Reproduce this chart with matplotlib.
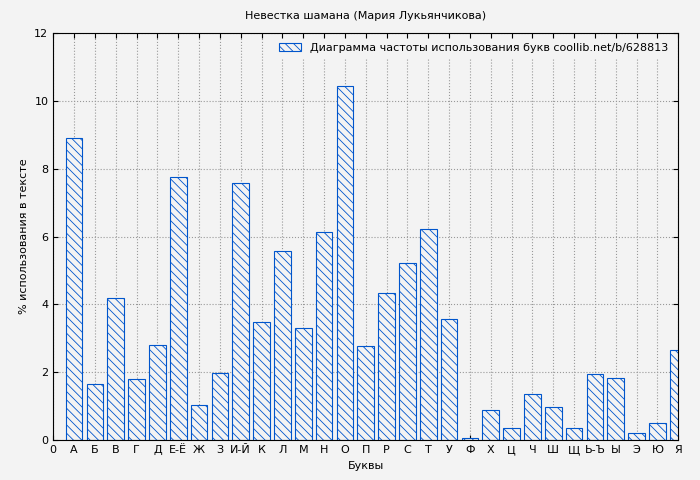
import matplotlib
matplotlib.use('Agg')
import matplotlib.pyplot as plt

letters = ['А', 'Б', 'В', 'Г', 'Д', 'Е-Ё', 'Ж', 'З', 'И-Й', 'К', 'Л', 'М', 'Н', 'О', 'П',
           'Р', 'С', 'Т', 'У', 'Ф', 'Х', 'Ц', 'Ч', 'Ш', 'Щ', 'Ь-Ъ', 'Ы', 'Э', 'Ю', 'Я']
values = [8.9, 1.67, 4.2, 1.8, 2.8, 7.77, 1.05, 1.97, 7.57, 3.47, 5.57, 3.3, 6.15, 10.43, 2.77,
          4.33, 5.22, 6.23, 3.57, 0.05, 0.9, 0.35, 1.35, 0.97, 0.35, 1.95, 1.82, 0.2, 0.52, 2.65]

plt.rcParams['hatch.color'] = '#0055cc'
plt.rcParams['hatch.linewidth'] = 0.6

fig = plt.figure(figsize=(7, 4.8), dpi=100, facecolor='#f3f3f3')
ax = fig.add_axes([0.076, 0.083, 0.893, 0.848], facecolor='#f3f3f3')

pos = list(range(1, len(letters) + 1))
ax.bar(pos, values, width=0.8, color='#f3f3f3', edgecolor='#0055cc', hatch='\\\\\\\\',
       linewidth=0.8, label='Диаграмма частоты использования букв coollib.net/b/628813')

ax.set_xlim(0, 30)
ax.set_ylim(0, 12)
ax.set_xticks([0] + pos)
ax.set_xticklabels(['0'] + letters)
ax.set_yticks(range(0, 13, 2))
ax.tick_params(direction='in', top=True, right=True, labelsize=8)
ax.grid(True, color='#999999', linestyle=':', linewidth=0.8)
ax.set_axisbelow(True)

ax.set_xlabel('Буквы', fontsize=8)
ax.set_ylabel('% использования в тексте', fontsize=8)
ax.set_title('Невестка шамана (Мария Лукьянчикова)', fontsize=8, pad=10)
leg = ax.legend(loc='upper right', fontsize=8, frameon=True, fancybox=False,
                edgecolor='none', facecolor='#f3f3f3', framealpha=1)

fig.savefig('out.png', dpi=100, facecolor=fig.get_facecolor())
